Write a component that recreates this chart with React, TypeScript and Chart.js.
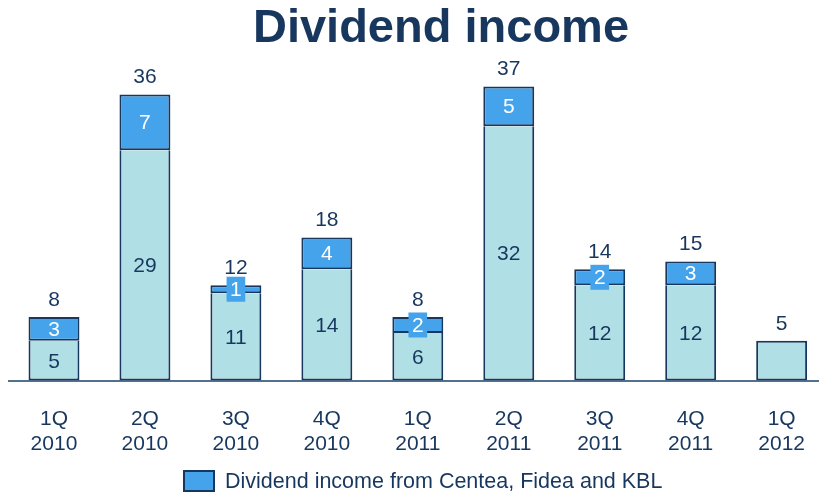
import React, { useEffect, useRef } from "react";
import { Chart, registerables } from "chart.js";

Chart.register(...registerables);

const categories: string[][] = [
  ["1Q", "2010"],
  ["2Q", "2010"],
  ["3Q", "2010"],
  ["4Q", "2010"],
  ["1Q", "2011"],
  ["2Q", "2011"],
  ["3Q", "2011"],
  ["4Q", "2011"],
  ["1Q", "2012"],
];
const baseValues: number[] = [5, 29, 11, 14, 6, 32, 12, 12, 5];
const dividendValues: (number | null)[] = [3, 7, 1, 4, 2, 5, 2, 3, null];
const totals: number[] = [8, 36, 12, 18, 8, 37, 14, 15, 5];
const titleText = "Dividend income";
const legendText = "Dividend income from Centea, Fidea and KBL";

const NAVY = "#17375e";
const LIGHT = "#b0dfe5";
const BLUE = "#45a3eb";
const AXIS = "#53708f";
const FONT = "'Liberation Sans', Arial, sans-serif";

const labelPlugin = {
  id: "customLabels",
  afterDatasetsDraw(chart: any) {
    const ctx = chart.ctx as CanvasRenderingContext2D;
    const m0 = chart.getDatasetMeta(0);
    const m1 = chart.getDatasetMeta(1);
    ctx.save();
    ctx.font = `21px ${FONT}`;
    ctx.textAlign = "center";
    ctx.textBaseline = "middle";
    for (let i = 0; i < categories.length; i++) {
      const b0 = m0.data[i];
      const b1 = m1.data[i];
      const top = dividendValues[i];
      let topY = b0.y;
      if (top != null && top > 0) {
        ctx.fillStyle = NAVY;
        ctx.fillText(String(baseValues[i]), b0.x, (b0.y + b0.base) / 2 + 1);
        const s = String(top);
        const cy = (b1.y + b1.base) / 2;
        const h = Math.abs(b1.base - b1.y);
        if (h < 20) {
          const w = ctx.measureText(s).width + 7;
          ctx.fillStyle = BLUE;
          ctx.fillRect(b1.x - w / 2, cy - 12.5, w, 25);
        }
        ctx.fillStyle = "#ffffff";
        ctx.fillText(s, b1.x, cy + 1);
        topY = b1.y;
      }
      ctx.fillStyle = NAVY;
      ctx.fillText(String(totals[i]), b0.x, topY - 17);
    }
    // title
    ctx.font = `bold 47px ${FONT}`;
    ctx.textBaseline = "alphabetic";
    ctx.fillStyle = NAVY;
    ctx.fillText(titleText, 441, 42);
    // legend
    ctx.fillStyle = BLUE;
    ctx.fillRect(184, 471, 30, 20);
    ctx.strokeStyle = NAVY;
    ctx.lineWidth = 2;
    ctx.strokeRect(184, 471, 30, 20);
    ctx.font = `21.5px ${FONT}`;
    ctx.textAlign = "left";
    ctx.textBaseline = "middle";
    ctx.fillStyle = NAVY;
    ctx.fillText(legendText, 225, 482);
    ctx.restore();
  },
};

export default function App() {
  const ref = useRef<HTMLCanvasElement | null>(null);
  useEffect(() => {
    if (!ref.current) return;
    const chart = new Chart(ref.current, {
      type: "bar",
      data: {
        labels: categories,
        datasets: [
          {
            label: "Other",
            data: baseValues,
            backgroundColor: LIGHT,
            borderColor: NAVY,
            borderWidth: 2,
            borderSkipped: (c: any) => (dividendValues[c.dataIndex] ? "end" : false),
          },
          {
            label: legendText,
            data: dividendValues,
            backgroundColor: BLUE,
            borderColor: NAVY,
            borderWidth: 2,
            borderSkipped: false,
          },
        ],
      },
      options: {
        responsive: false,
        animation: false,
        events: [],
        layout: { padding: { top: 60, bottom: 12, left: 8.5, right: 0 } },
        datasets: { bar: { categoryPercentage: 1, barPercentage: 0.56 } },
        plugins: {
          legend: { display: false },
          title: { display: false },
          tooltip: { enabled: false },
        },
        scales: {
          x: {
            stacked: true,
            grid: { display: false, drawTicks: false },
            border: { display: true, color: AXIS, width: 2 },
            ticks: {
              color: NAVY,
              padding: 26,
              font: { size: 21, family: FONT, lineHeight: 1.2 },
              maxRotation: 0,
              autoSkip: false,
            },
          },
          y: {
            stacked: true,
            display: false,
            min: 0,
            max: 40.35,
          },
        },
      },
      plugins: [labelPlugin],
    });
    return () => chart.destroy();
  }, []);
  return (
    <div
      style={{
        position: "fixed",
        left: 0,
        top: 0,
        width: 819,
        height: 495,
        overflow: "hidden",
        background: "#ffffff",
      }}
    >
      <canvas ref={ref} width={831} height={495} style={{ display: "block" }} />
    </div>
  );
}
